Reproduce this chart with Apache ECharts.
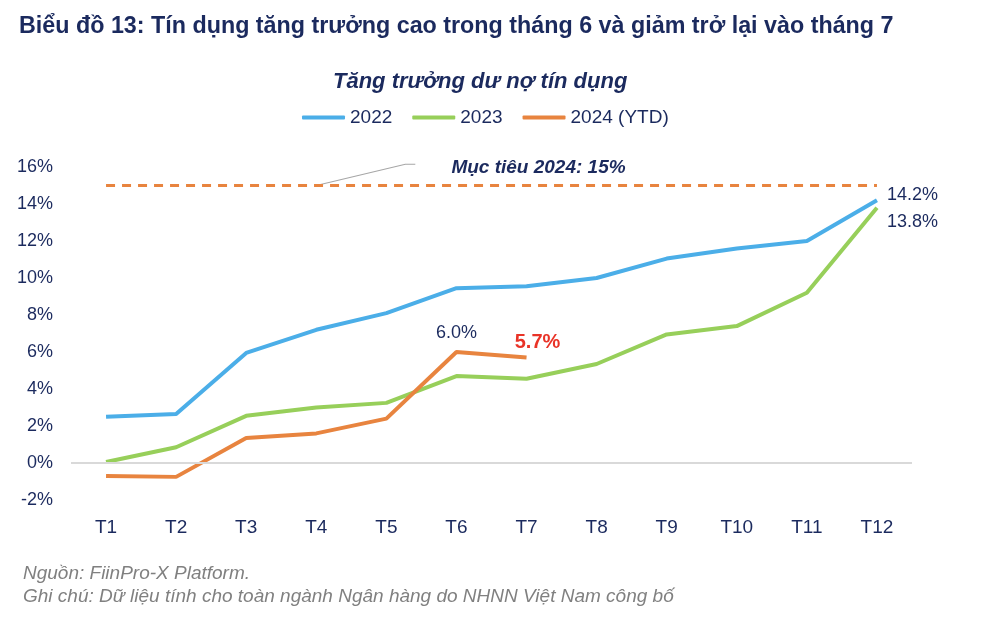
<!DOCTYPE html>
<html><head><meta charset="utf-8">
<script src="https://cdn.jsdelivr.net/npm/echarts@6/dist/echarts.min.js"></script>
<style>html,body{margin:0;padding:0;background:#fff;}#c{width:1000px;height:624px;}</style>
</head><body><div id="c"></div>
<script>
const categories = ['T1','T2','T3','T4','T5','T6','T7','T8','T9','T10','T11','T12'];
const s2022 = [2.5, 2.65, 5.95, 7.2, 8.1, 9.45, 9.55, 10.0, 11.05, 11.6, 12.0, 14.2];
const s2023 = [0.05, 0.85, 2.55, 3.0, 3.25, 4.7, 4.55, 5.35, 6.95, 7.4, 9.2, 13.8];
const s2024 = [-0.7, -0.75, 1.35, 1.6, 2.4, 6.0, 5.7];
const yTicks = [-2, 0, 2, 4, 6, 8, 10, 12, 14, 16];
const target = 15;

const NAVY = '#1B2A5E';
const BLUE = '#4BAEE8';
const GREEN = '#97CF5A';
const ORANGE = '#E8843F';
const RED = '#E93327';
const FONT = 'Liberation Sans, Arial, sans-serif';

const chart = echarts.init(document.getElementById('c'), null, {renderer: 'canvas'});

function withLabels(arr, style) {
  return arr.map((v, i) => {
    const o = {value: v};
    if (style[i]) o.label = Object.assign({show: true}, style[i]);
    return o;
  });
}

const option = {
  backgroundColor: '#fff',
  animation: false,
  textStyle: {fontFamily: FONT},
  title: [
    {text: 'Biểu đồ 13: Tín dụng tăng trưởng cao trong tháng 6 và giảm trở lại vào tháng 7',
     left: 14, top: 10,
     textStyle: {fontFamily: FONT, fontSize: 23.3, fontWeight: 'bold', color: NAVY}},
    {text: 'Tăng trưởng dư nợ tín dụng', left: 328, top: 66,
     textStyle: {fontFamily: FONT, fontSize: 22, fontWeight: 'bold', fontStyle: 'italic', color: NAVY}},
    {text: 'Nguồn: FiinPro-X Platform.\nGhi chú: Dữ liệu tính cho toàn ngành Ngân hàng do NHNN Việt Nam công bố',
     left: 18, top: 557,
     textStyle: {fontFamily: FONT, fontSize: 19, fontWeight: 'normal', fontStyle: 'italic', color: '#808080', lineHeight: 23}}
  ],
  legend: {
    top: 103, left: 297,
    itemWidth: 43, itemHeight: 4, itemGap: 20,
    icon: 'roundRect',
    textStyle: {fontFamily: FONT, fontSize: 19, color: NAVY},
    data: ['2022', '2023', '2024 (YTD)']
  },
  grid: {left: 71, right: 88, top: 167, height: 333},
  xAxis: {
    type: 'category', data: categories, boundaryGap: true,
    axisLine: {show: false}, axisTick: {show: false},
    axisLabel: {fontFamily: FONT, fontSize: 19, color: NAVY, margin: 18}
  },
  yAxis: {
    type: 'value', min: -2, max: 16, interval: 2,
    axisLine: {show: false}, axisTick: {show: false},
    splitLine: {show: false},
    axisLabel: {fontFamily: FONT, fontSize: 18, color: NAVY, margin: 18,
      formatter: v => yTicks.includes(v) ? v + '%' : ''}
  },
  series: [
    {name: '2022', type: 'line',
     data: withLabels(s2022, {11: {position: 'right', distance: 10, offset: [0, -5], formatter: '14.2%', fontSize: 18, color: NAVY, fontFamily: FONT}}),
     symbol: 'circle', symbolSize: 0, showSymbol: true,
     lineStyle: {color: BLUE, width: 4}, itemStyle: {color: BLUE}, z: 3,
     markLine: {
       silent: true, symbol: 'none',
       lineStyle: {color: '#D9D9D9', width: 2, type: 'solid'},
       label: {show: false},
       data: [{yAxis: 0}]
     }},
    {name: '2023', type: 'line',
     data: withLabels(s2023, {11: {position: 'right', distance: 10, offset: [0, 14], formatter: '13.8%', fontSize: 18, color: NAVY, fontFamily: FONT}}),
     symbol: 'circle', symbolSize: 0, showSymbol: true,
     lineStyle: {color: GREEN, width: 4}, itemStyle: {color: GREEN}, z: 2},
    {name: '2024 (YTD)', type: 'line',
     data: withLabels(s2024, {
       5: {position: 'top', distance: 10, formatter: '6.0%', fontSize: 18, color: NAVY, fontFamily: FONT},
       6: {position: 'top', distance: 5, offset: [11, 0], formatter: '5.7%', fontSize: 20, fontWeight: 'bold', color: RED, fontFamily: FONT}}),
     symbol: 'circle', symbolSize: 0, showSymbol: true,
     lineStyle: {color: ORANGE, width: 4}, itemStyle: {color: ORANGE}, z: 4,
     markLine: {
       silent: true, symbol: 'none',
       lineStyle: {color: ORANGE, width: 3, type: [9, 7]},
       label: {show: true, position: 'middle', formatter: 'Mục tiêu 2024: 15%',
         offset: [47, 2], distance: 10,
         fontFamily: FONT, fontSize: 19, fontWeight: 'bold', fontStyle: 'italic', color: NAVY},
       data: [[{coord: ['T1', target]}, {coord: ['T12', target]}]]
     }}
  ]
};
chart.setOption(option);

// leader line from the target line (at T4) up toward the annotation text
const p0 = chart.convertToPixel({gridIndex: 0}, ['T4', target]);
const pT5 = chart.convertToPixel({gridIndex: 0}, ['T5', 16.15]);
const pT6 = chart.convertToPixel({gridIndex: 0}, ['T6', 16.15]);
const xa = pT5[0] + (pT6[0] - pT5[0]) * 0.27;
chart.setOption({graphic: [{
  type: 'polyline', silent: true,
  shape: {points: [p0, [xa, pT5[1]], [xa + 10, pT5[1]]]},
  style: {stroke: '#A6A6A6', lineWidth: 1.2, fill: null}
}]});
</script></body></html>
